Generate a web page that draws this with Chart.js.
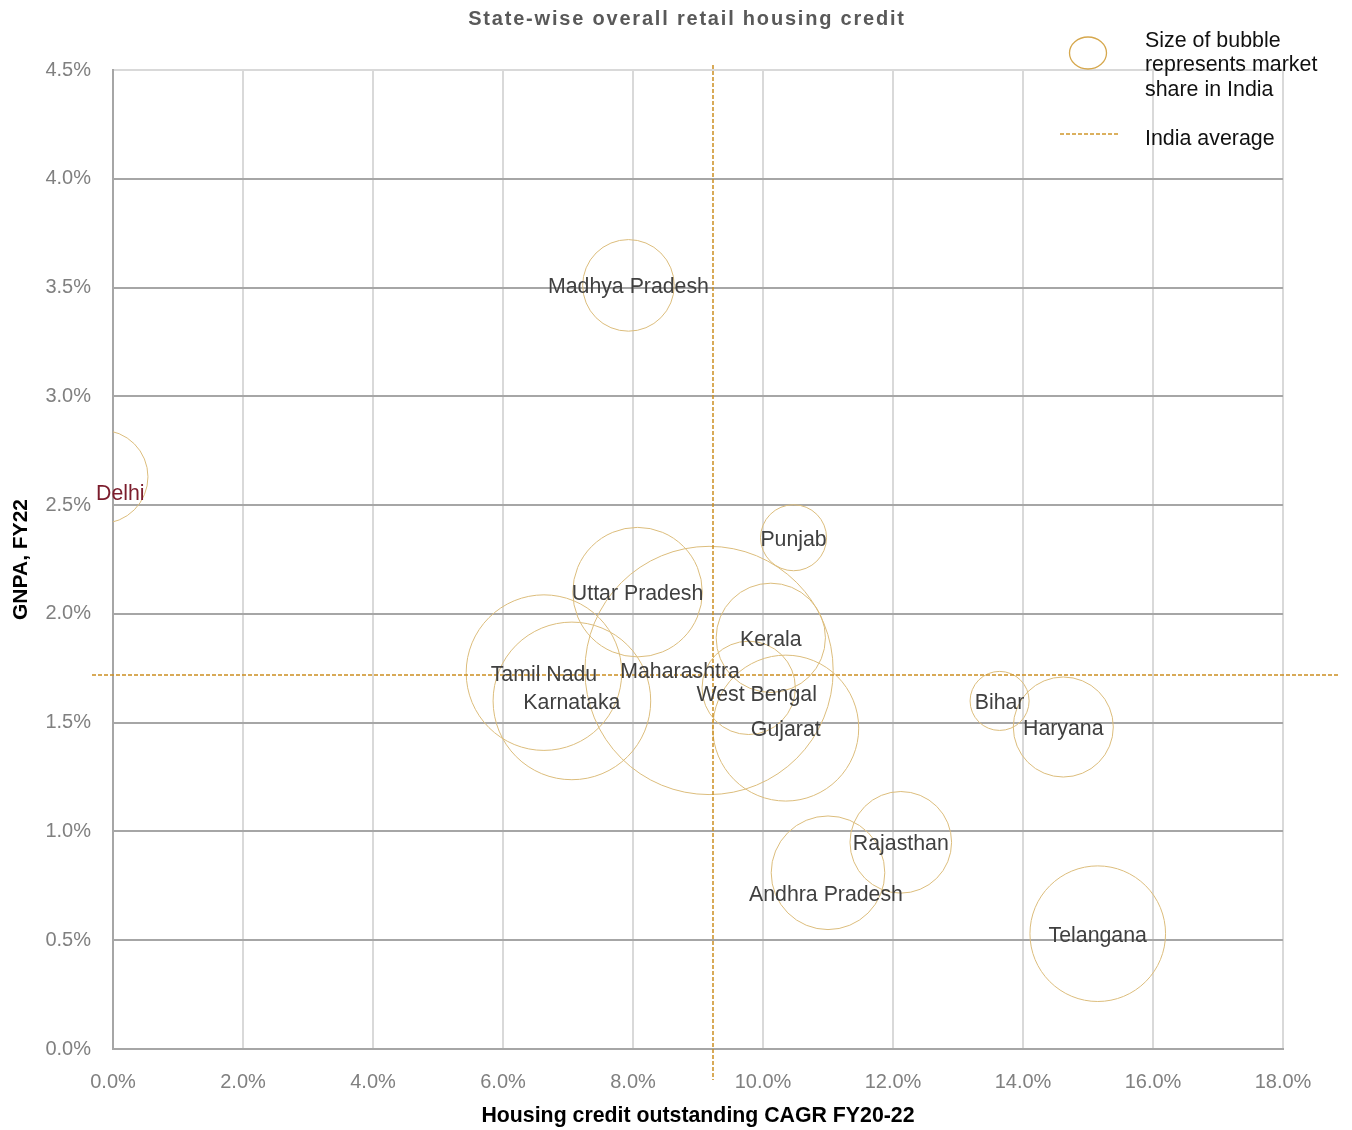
<!DOCTYPE html>
<html>
<head>
<meta charset="utf-8">
<title>State-wise overall retail housing credit</title>
<script src="https://cdn.jsdelivr.net/npm/chart.js@4.4.1/dist/chart.umd.min.js"></script>
<style>
  html, body { margin: 0; padding: 0; background: #fff; }
  #wrap { width: 1352px; height: 1130px; }
</style>
</head>
<body>
<div id="wrap"><canvas id="bubbleChart" width="1352" height="1130"></canvas></div>
<script>
// data
const states = ["Delhi", "Madhya Pradesh", "Punjab", "Uttar Pradesh", "Maharashtra", "Kerala",
  "Tamil Nadu", "Karnataka", "West Bengal", "Gujarat", "Bihar", "Haryana",
  "Rajasthan", "Andhra Pradesh", "Telangana"];
const cagr = [-0.18, 7.93, 10.47, 8.07, 9.17, 10.12, 6.63, 7.06, 9.78, 10.35, 13.64, 14.62, 12.12, 11.0, 15.15]; // %
const gnpa = [2.63, 3.51, 2.35, 2.10, 1.74, 1.89, 1.73, 1.60, 1.66, 1.475, 1.60, 1.48, 0.95, 0.81, 0.53];        // %
const marketShare = [2.7, 2.6, 1.35, 5.2, 19.1, 3.7, 7.5, 7.7, 2.7, 6.6, 1.08, 3.1, 3.2, 4.0, 5.7];             // %
const indiaAvgCagr = 9.23;
const indiaAvgGnpa = 1.72;
const xTickValues = [0, 2, 4, 6, 8, 10, 12, 14, 16, 18];
const yTickValues = [0, 0.5, 1, 1.5, 2, 2.5, 3, 3.5, 4, 4.5];

const FONT = "Arial, 'Liberation Sans', sans-serif";
const bubbleScale = 28.4; // px radius for 1% share

// a few labels sit off their bubble centre in the original
const labelNudge = {
  "Delhi": [19, 15],
  "Maharashtra": [-29, 0],
  "West Bengal": [8, 5],
  "Andhra Pradesh": [-2, 20],
};

const points = states.map((s, i) => ({
  x: cagr[i],
  y: gnpa[i],
  r: bubbleScale * Math.sqrt(marketShare[i]),
}));

const overlayPlugin = {
  id: "overlay",
  afterDatasetsDraw(chart) {
    const { ctx } = chart;
    const xs = chart.scales.x;
    const ys = chart.scales.y;

    // India average lines, running past the plot area
    ctx.save();
    ctx.strokeStyle = "#cc8f22";
    ctx.lineWidth = 1.5;
    ctx.setLineDash([4, 2]);
    const ax = Math.round(xs.getPixelForValue(indiaAvgCagr));
    const ay = Math.round(ys.getPixelForValue(indiaAvgGnpa));
    ctx.beginPath();
    ctx.moveTo(ax, 65);
    ctx.lineTo(ax, 1080);
    ctx.moveTo(92, ay);
    ctx.lineTo(1340, ay);
    ctx.stroke();
    ctx.restore();

    // bubble labels
    ctx.save();
    ctx.font = "21.3px " + FONT;
    ctx.textAlign = "center";
    ctx.textBaseline = "middle";
    const meta = chart.getDatasetMeta(0);
    meta.data.forEach((pt, i) => {
      const nudge = labelNudge[states[i]] || [0, 0];
      ctx.fillStyle = states[i] === "Delhi" ? "#7b1c2c" : "#404040";
      ctx.fillText(states[i], pt.x + nudge[0], pt.y + nudge[1] + 2);
    });
    ctx.restore();

    // title
    ctx.save();
    ctx.font = "bold 20px " + FONT;
    ctx.fillStyle = "#595959";
    ctx.textAlign = "center";
    ctx.textBaseline = "middle";
    if ("letterSpacing" in ctx) ctx.letterSpacing = "1.8px";
    ctx.fillText("State-wise overall retail housing credit", 687, 19);
    ctx.restore();

    // legend
    ctx.save();
    ctx.strokeStyle = "#d6a84e";
    ctx.lineWidth = 1.3;
    ctx.beginPath();
    ctx.ellipse(1088, 53, 18.5, 16, 0, 0, Math.PI * 2);
    ctx.stroke();
    ctx.strokeStyle = "#d0962a";
    ctx.lineWidth = 1.3;
    ctx.setLineDash([4, 2]);
    ctx.beginPath();
    ctx.moveTo(1060, 134);
    ctx.lineTo(1120, 134);
    ctx.stroke();
    ctx.setLineDash([]);
    ctx.font = "21.4px " + FONT;
    ctx.fillStyle = "#111";
    ctx.textAlign = "left";
    ctx.textBaseline = "middle";
    ["Size of bubble", "represents market", "share in India"].forEach((t, k) => {
      ctx.fillText(t, 1145, 41 + k * 24.5);
    });
    ctx.fillText("India average", 1145, 139);
    ctx.restore();
  },
};

new Chart(document.getElementById("bubbleChart").getContext("2d"), {
  type: "bubble",
  data: {
    datasets: [
      {
        label: "States",
        data: points,
        backgroundColor: "rgba(0,0,0,0)",
        borderColor: "#dcbd7c",
        borderWidth: 1,
        hoverBorderWidth: 1,
        clip: 0,
      },
    ],
  },
  options: {
    responsive: false,
    animation: false,
    events: [],
    layout: { autoPadding: false, padding: { top: 70, right: 69, left: 0, bottom: 0 } },
    plugins: {
      legend: { display: false },
      tooltip: { enabled: false },
    },
    scales: {
      x: {
        type: "linear",
        min: 0,
        max: 18,
        afterBuildTicks: (s) => { s.ticks = xTickValues.map((v) => ({ value: v })); },
        afterFit: (s) => { s.height = 81; },
        ticks: {
          padding: 21,
          color: "#808080",
          font: { family: FONT, size: 20 },
          callback: (v) => v.toFixed(1) + "%",
        },
        grid: {
          color: (c) => (c.tick && c.tick.value === 0 ? "#a6a6a6" : "#d9d9d9"),
          lineWidth: 2,
          drawTicks: false,
        },
        border: { display: true, color: "#a6a6a6", width: 2 },
        title: {
          display: true,
          text: "Housing credit outstanding CAGR FY20-22",
          color: "#000",
          font: { family: FONT, size: 21.3, weight: "bold" },
          padding: { top: 0, bottom: 1 },
        },
      },
      y: {
        type: "linear",
        min: 0,
        max: 4.5,
        afterBuildTicks: (s) => { s.ticks = yTickValues.map((v) => ({ value: v })); },
        afterFit: (s) => { s.width = 113; },
        ticks: {
          padding: 22,
          color: "#808080",
          font: { family: FONT, size: 20 },
          callback: (v) => v.toFixed(1) + "%",
        },
        grid: {
          color: (c) => (c.tick && c.tick.value === 4.5 ? "#d9d9d9" : "#a6a6a6"),
          lineWidth: 2,
          drawTicks: false,
        },
        border: { display: true, color: "#a6a6a6", width: 2 },
        title: {
          display: true,
          text: "GNPA, FY22",
          color: "#000",
          font: { family: FONT, size: 21, weight: "bold" },
          padding: { top: 9, bottom: 0 },
        },
      },
    },
  },
  plugins: [overlayPlugin],
});
</script>
</body>
</html>
